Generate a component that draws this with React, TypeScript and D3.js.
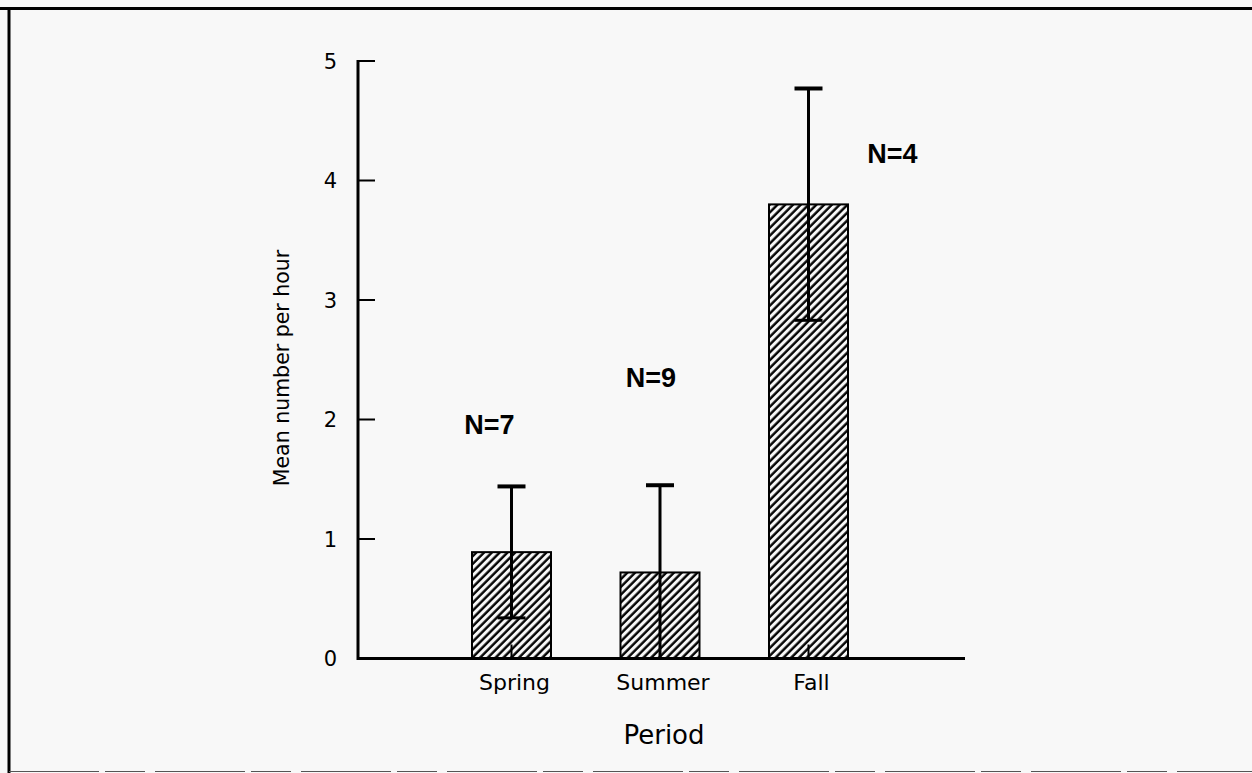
import React from "react";
import * as d3 from "d3";

// Mean number per hour by sampling period, with standard-error bars
const categories = ["Spring", "Summer", "Fall"];
const means = [0.89, 0.72, 3.8];
const errors = [0.55, 0.73, 0.97];
const sampleLabels = ["N=7", "N=9", "N=4"];
const yTicks = [0, 1, 2, 3, 4, 5];

const W = 1252;
const H = 773;

export default function App() {
  const axisLeft = 358;
  const axisRight = 965;
  const yScale = d3.scaleLinear().domain([0, 5]).range([658.5, 61]);
  const xScale = d3
    .scalePoint<string>()
    .domain(categories)
    .range([363, 957])
    .padding(1);
  const barWidth = 79;
  const capHalf = 14;

  // sample-size annotation placement: offset from category centre (px), height in data units
  const labelDx = [-22, -9, 84];
  const labelY = [1.88, 2.27, 4.15];

  const tickFont = "'DejaVu Sans', Verdana, sans-serif";

  return (
    <svg
      width={W}
      height={H}
      style={{ position: "absolute", left: 0, top: 0, background: "#f8f8f8" }}
    >
      <defs>
        <pattern
          id="hatch"
          width={5.5}
          height={5.5}
          patternUnits="userSpaceOnUse"
          patternTransform="rotate(45)"
        >
          <rect width={5.5} height={5.5} fill="#f8f8f8" />
          <line x1={1.5} y1={0} x2={1.5} y2={5.5} stroke="#000" strokeWidth={2.4} />
        </pattern>
      </defs>

      {/* page frame */}
      <line x1={0} x2={W} y1={8.5} y2={8.5} stroke="#000" strokeWidth={3} />
      <line x1={9} x2={9} y1={7} y2={H} stroke="#000" strokeWidth={3} />
      <line x1={9} x2={W} y1={771.5} y2={771.5} stroke="#555" strokeWidth={1} strokeDasharray="90 6 40 10" />

      {/* bars */}
      {categories.map((c, i) => {
        const cx = xScale(c)!;
        return (
          <rect
            key={c}
            x={cx - barWidth / 2}
            y={yScale(means[i])}
            width={barWidth}
            height={yScale(0) - yScale(means[i])}
            fill="url(#hatch)"
            stroke="#000"
            strokeWidth={2}
          />
        );
      })}

      {/* category ticks */}
      {categories.map((c) => (
        <line
          key={c + "-tick"}
          x1={xScale(c)!}
          x2={xScale(c)!}
          y1={yScale(0)}
          y2={yScale(0) - 14}
          stroke="#000"
          strokeWidth={2}
        />
      ))}

      {/* error bars */}
      {categories.map((c, i) => {
        const cx = xScale(c)!;
        const hi = means[i] + errors[i];
        const lo = Math.max(0, means[i] - errors[i]);
        return (
          <g key={c + "-err"} stroke="#000">
            <line x1={cx} x2={cx} y1={yScale(hi)} y2={yScale(lo)} strokeWidth={3} />
            <line x1={cx - capHalf} x2={cx + capHalf} y1={yScale(hi)} y2={yScale(hi)} strokeWidth={4} />
            {lo > 0 && (
              <line x1={cx - capHalf} x2={cx + capHalf} y1={yScale(lo)} y2={yScale(lo)} strokeWidth={3} />
            )}
          </g>
        );
      })}

      {/* axes */}
      <line x1={axisLeft} x2={axisRight} y1={yScale(0)} y2={yScale(0)} stroke="#000" strokeWidth={3} />
      <line x1={axisLeft} x2={axisLeft} y1={yScale(5) - 1} y2={yScale(0) + 1.5} stroke="#000" strokeWidth={3} />
      {yTicks.map((t) => (
        <g key={t}>
          <line x1={axisLeft} x2={axisLeft + 17} y1={yScale(t)} y2={yScale(t)} stroke="#000" strokeWidth={2} />
          <text
            x={337}
            y={yScale(t)}
            dy="0.36em"
            textAnchor="end"
            fontFamily={tickFont}
            fontSize={21}
            fill="#000"
          >
            {t}
          </text>
        </g>
      ))}

      {/* category labels */}
      {categories.map((c) => (
        <text
          key={c + "-label"}
          x={xScale(c)! + 3}
          y={690}
          textAnchor="middle"
          fontFamily={tickFont}
          fontSize={22}
          fill="#000"
        >
          {c}
        </text>
      ))}

      {/* sample sizes */}
      {categories.map((c, i) => (
        <text
          key={c + "-n"}
          x={xScale(c)! + labelDx[i]}
          y={yScale(labelY[i])}
          textAnchor="middle"
          fontFamily="'Liberation Sans', Arial, sans-serif"
          fontWeight="bold"
          fontSize={27}
          fill="#000"
        >
          {sampleLabels[i]}
        </text>
      ))}

      {/* axis titles */}
      <text x={664} y={744} textAnchor="middle" fontFamily={tickFont} fontSize={26} fill="#000">
        Period
      </text>
      <text
        transform="translate(289,368) rotate(-90)"
        textAnchor="middle"
        fontFamily={tickFont}
        fontSize={20.5}
        fill="#000"
      >
        Mean number per hour
      </text>
    </svg>
  );
}
